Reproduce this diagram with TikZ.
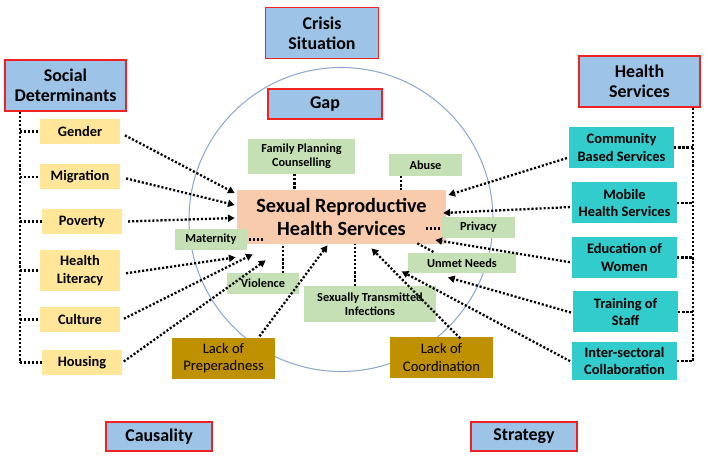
\documentclass[tikz,border=0pt]{standalone}
\usepackage{fontspec}
\setmainfont{Carlito}
\usetikzlibrary{arrows.meta,calc}

\definecolor{headblue}{HTML}{9DC3E6}
\definecolor{headred}{HTML}{EE2222}
\definecolor{factyellow}{HTML}{FFE699}
\definecolor{actionteal}{HTML}{33CCCC}
\definecolor{issuegreen}{HTML}{C5E0B4}
\definecolor{coresalmon}{HTML}{F8CBAD}
\definecolor{lackbrown}{HTML}{BF9000}
\definecolor{ringblue}{HTML}{8EA9CF}

\begin{document}
\begin{tikzpicture}[x=0.2mm,y=-0.2mm,
  head/.style={draw=headred,line width=1pt,fill=headblue,align=center,inner sep=0pt,
    font=\fontsize{10.2}{11.6}\selectfont\bfseries,minimum width=24.2mm,minimum height=10.2mm},
  factor/.style={fill=factyellow,align=center,inner sep=0pt,
    font=\fontsize{8.2}{10}\selectfont\bfseries,minimum width=16mm,minimum height=5mm},
  action/.style={fill=actionteal,align=center,inner sep=0pt,
    font=\fontsize{8.2}{10}\selectfont\bfseries,minimum width=21mm,minimum height=8.2mm},
  issue/.style={fill=issuegreen,align=center,inner sep=0pt,
    font=\fontsize{7}{8.2}\selectfont\bfseries,minimum width=14.5mm,minimum height=4.2mm},
  lack/.style={fill=lackbrown,align=center,inner sep=0pt,
    font=\fontsize{8.3}{9.8}\selectfont,minimum width=20.6mm,minimum height=8.2mm},
  link/.style={line width=1.3pt,dash pattern=on 1.2pt off 1.1pt},
  push/.style={link,-{Triangle[length=3.8pt,width=4pt]},shorten <=1pt}]
  \useasboundingbox (0,0) rectangle (708,460);

  % ring
  \draw[ringblue,line width=0.6pt] (341,219.5) circle [radius=152];

  % headings
  \node[head] (sd) at (65.5,85.5) {Social\\Determinants};
  \node[head,minimum width=22.6mm] (crisis) at (322,33) {Crisis\\Situation};
  \node[head,minimum width=22.8mm,minimum height=6mm] (gap) at (325,104) {Gap};
  \node[head] (hs) at (639.5,81.5) {Health\\Services};
  \node[head,minimum width=21.2mm,minimum height=5.8mm] (causality) at (159,436.5) {Causality};
  \node[head,minimum width=21.2mm,minimum height=5.8mm] (strategy) at (524,436.5) {Strategy};

  % social determinants
  \node[factor] (gender) at (80,131.5) {Gender};
  \node[factor] (migration) at (80,177) {Migration};
  \node[factor] (poverty) at (82,221.5) {Poverty};
  \node[factor,minimum height=8.2mm] (literacy) at (80,270.5) {Health\\Literacy};
  \node[factor] (culture) at (80,319.5) {Culture};
  \node[factor] (housing) at (82,362.5) {Housing};

  % health services
  \node[action] (community) at (621.5,147.5) {Community\\Based Services};
  \node[action] (mobile) at (624.5,203) {Mobile\\Health Services};
  \node[action] (education) at (624.5,257.5) {Education of\\Women};
  \node[action] (training) at (625.5,312) {Training of\\Staff};
  \node[action,minimum height=7.6mm] (intersect) at (624.5,361) {Inter-sectoral\\Collaboration};

  % core and issues
  \node[fill=coresalmon,align=center,inner sep=0pt,font=\fontsize{11.5}{13}\selectfont\bfseries,
    minimum width=41.8mm,minimum height=10.8mm] (srhs) at (341.5,217) {Sexual Reproductive\\Health Services};
  \node[issue,minimum width=21.4mm,minimum height=7mm] (family) at (301.5,156.5) {Family Planning\\Counselling};
  \node[issue,minimum height=4.4mm] (abuse) at (425.5,165) {Abuse};
  \node[issue] (privacy) at (478.5,227.5) {Privacy};
  \node[issue] (maternity) at (211,239.5) {Maternity};
  \node[issue,minimum width=21.6mm,minimum height=4mm] (unmet) at (462,263) {Unmet Needs};
  \node[issue] (violence) at (263,283.5) {Violence};
  \node[issue,minimum width=26.4mm,minimum height=7.2mm] (sti) at (370,304) {Sexually Transmitted\\Infections};

  % gaps in response
  \node[lack] (prep) at (223.5,358.5) {Lack of\\Preperadness};
  \node[lack] (coord) at (441.5,357.5) {Lack of\\Coordination};

  % trunks
  \coordinate (sdtop) at ($(sd.south west)+(16,0)$);
  \coordinate (hstop) at ($(hs.south east)+(-8,0)$);
  \draw[link] (sdtop) -- (sdtop |- housing.west);
  \draw[link] (hstop) -- (hstop |- intersect.east);
  \foreach \n in {gender,migration,poverty,literacy,culture,housing}
    \draw[link] (sdtop |- \n.west) -- (\n.west);
  \foreach \n in {community,mobile,education,training,intersect}
    \draw[link] (\n.east) -- (hstop |- \n.east);

  % issue links
  \coordinate (familyfoot) at ($(family.south)+(-7,0)$);
  \coordinate (abusefoot) at ($(abuse.south west)+(12,0)$);
  \coordinate (violencetop) at ($(violence.north)+(20,0)$);
  \coordinate (stitop) at ($(sti.north)+(-15,0)$);
  \draw[link] (familyfoot) -- (familyfoot |- srhs.north);
  \draw[link] (abusefoot) -- (abusefoot |- srhs.north);
  \draw[link] ($(privacy.west)+(-2,1)$) -- ++(-15,0);
  \draw[link] ($(maternity.east)+(1,0)$) -- ++(15,0);
  \draw[link] ($(srhs.south east)+(-29,-1)$) -- ($(unmet.north west)+(27,0)$);
  \draw[link] (violencetop) -- (violencetop |- srhs.south);
  \draw[link] (stitop) -- (stitop |- srhs.south);

  % causes
  \draw[push] ($(gender.east)+(3,3)$) -- ($(srhs.west)+(-2,-24)$);
  \draw[push] ($(migration.east)+(4,1)$) -- ($(srhs.west)+(-2,-12)$);
  \draw[push] ($(poverty.east)+(4,0)$) -- ($(srhs.west)+(-2,1)$);
  \draw[push] ($(literacy.east)+(4,3)$) -- ($(srhs.south west)+(-1,13)$);
  \draw[push] ($(culture.east)+(2,0)$) -- ($(srhs.south west)+(16,10)$);
  \draw[push] (housing.east) -- ($(srhs.south west)+(29,16)$);
  \draw[push] ($(prep.north)+(35,0)$) -- ($(srhs.south)+(-14,1)$);
  \draw[push] ($(coord.north)+(20,3)$) -- ($(srhs.south)+(30,4)$);

  % strategies
  \draw[push] ($(community.west)+(0,10)$) -- ($(srhs.east)+(2,-22)$);
  \draw[push] ($(mobile.west)+(0,4)$) -- ($(srhs.east)+(-3,-4)$);
  \draw[push] ($(education.west)+(0,5)$) -- ($(srhs.east)+(-11,23)$);
  \draw[push] ($(training.west)+(0,1)$) -- ($(unmet.south)+(-14,4)$);
  \draw[push] ($(intersect.west)+(0,1)$) -- ($(unmet.south west)+(-6,-2)$);
\end{tikzpicture}
\end{document}
